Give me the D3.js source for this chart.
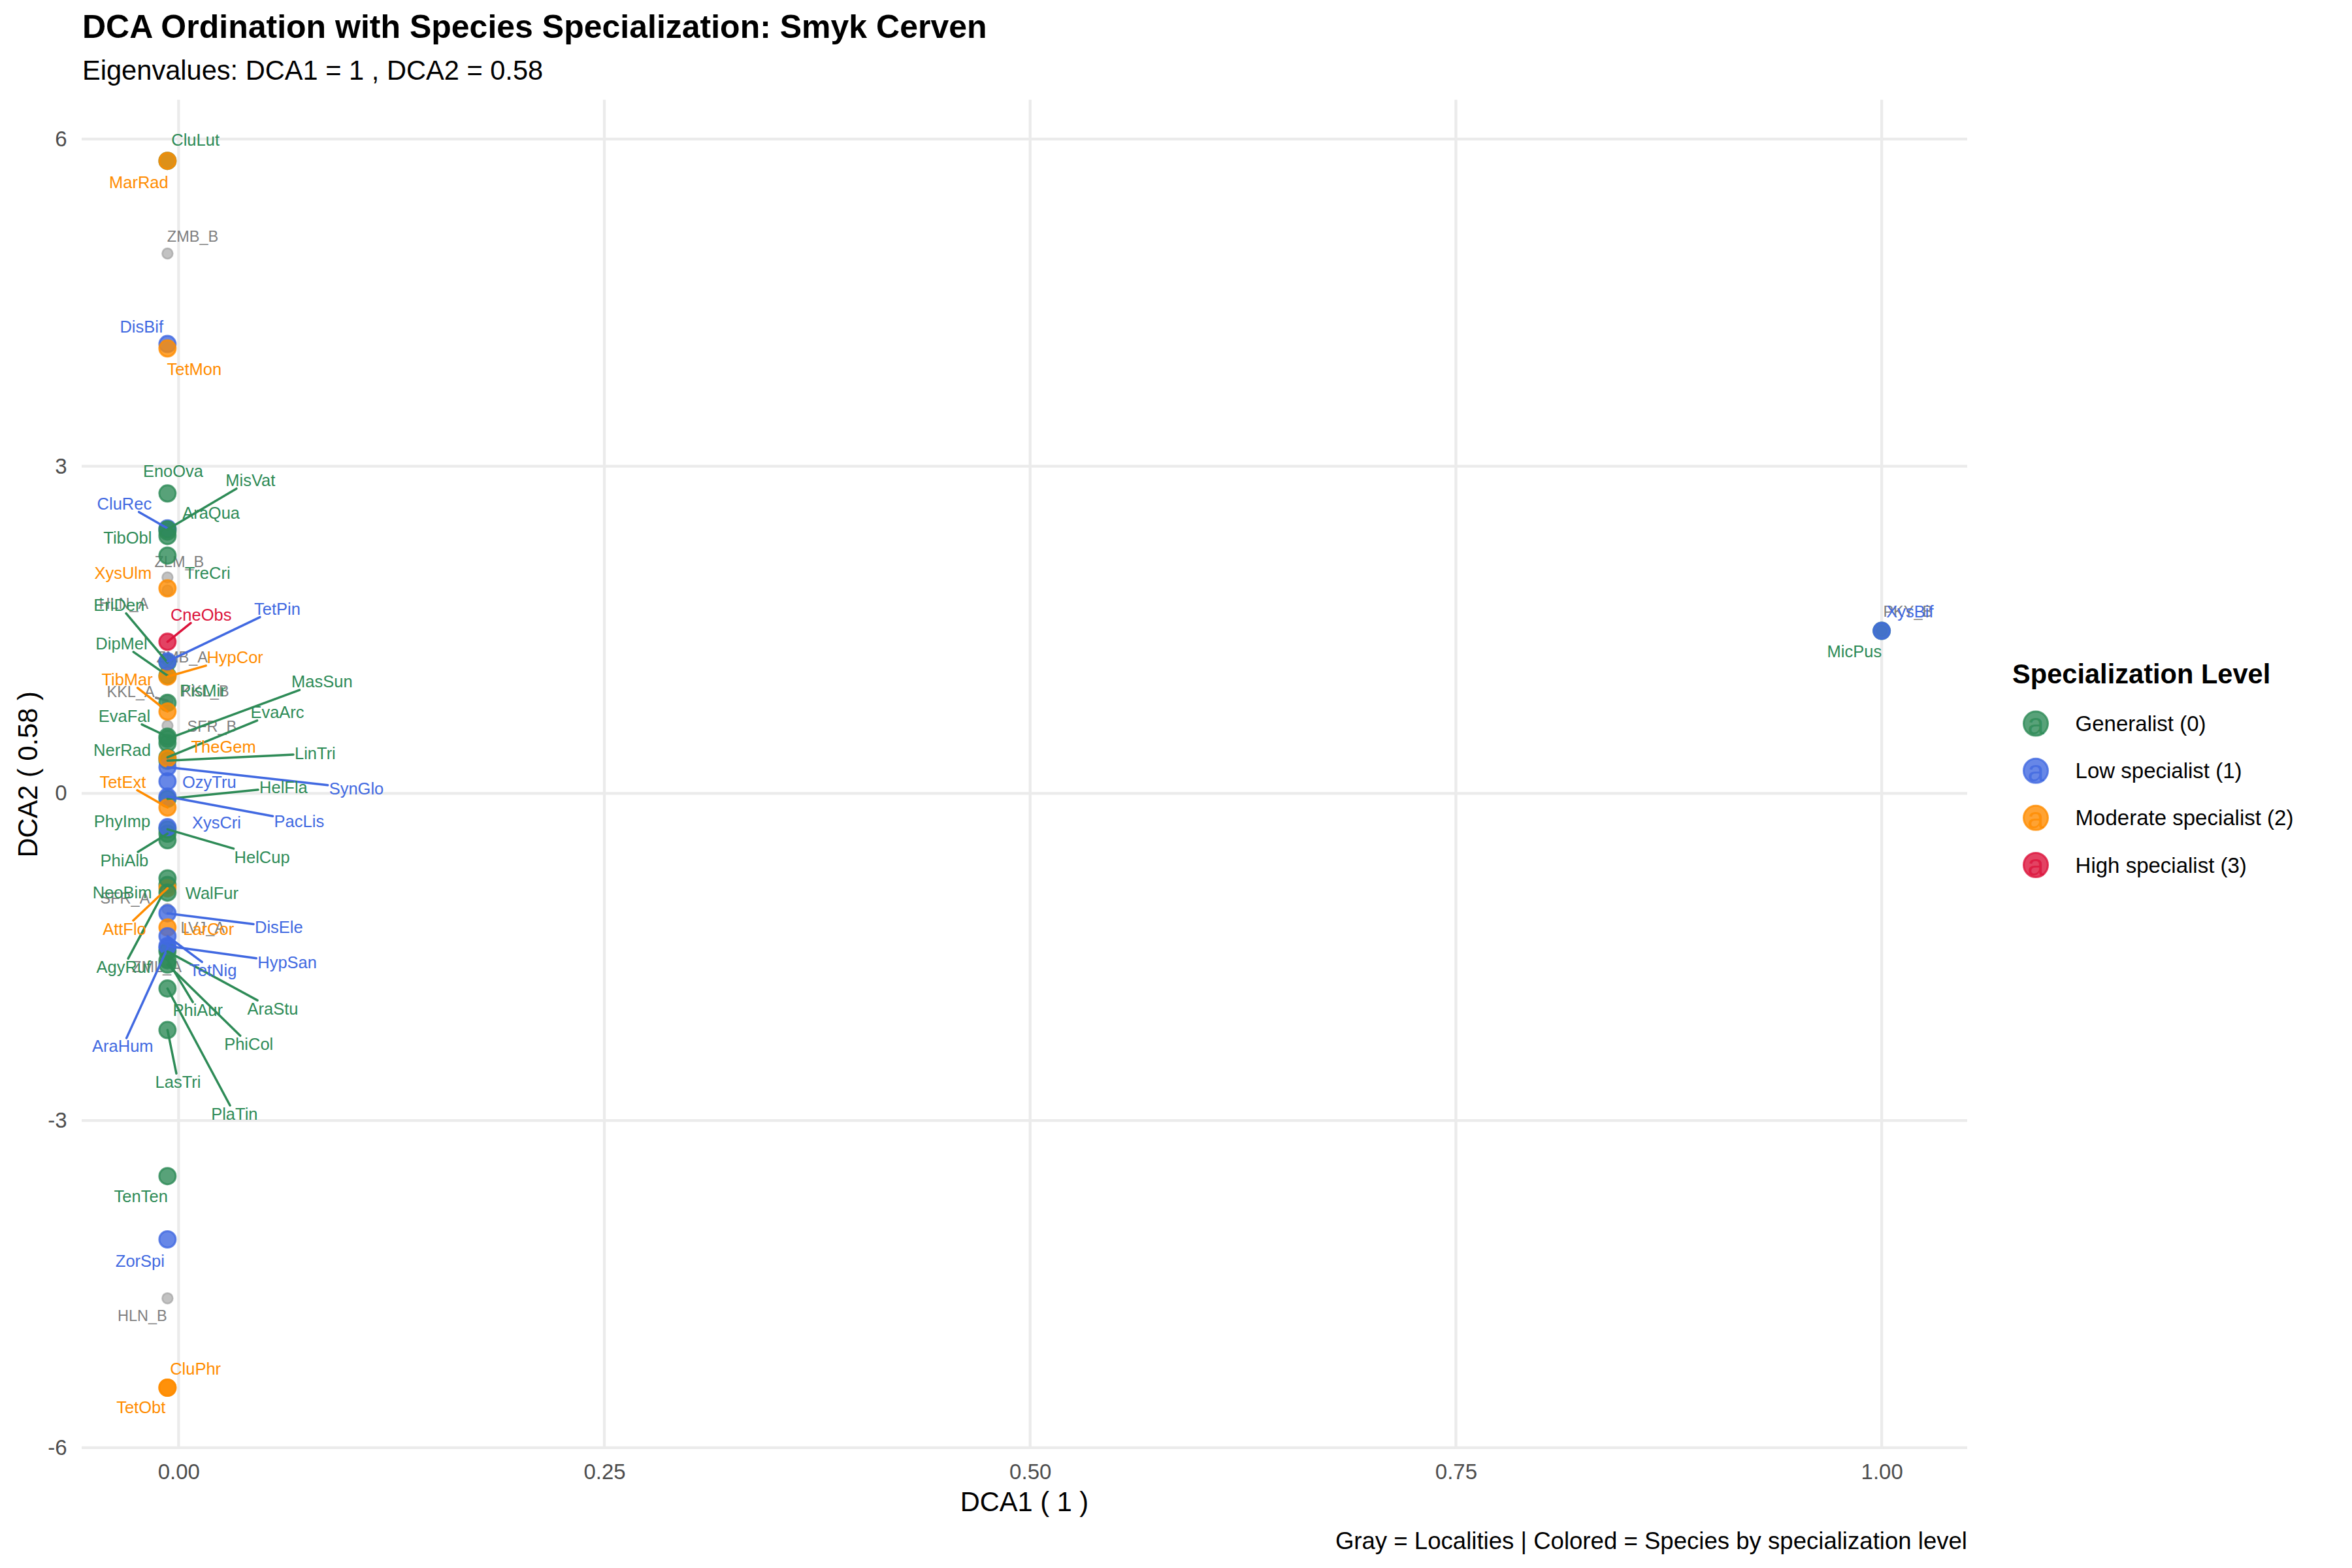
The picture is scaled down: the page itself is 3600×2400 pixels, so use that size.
<!DOCTYPE html>
<html><head><meta charset="utf-8">
<script src="https://cdn.jsdelivr.net/npm/d3@7"></script>
<style>
body{margin:0;background:#fff}
svg{display:block}
text{font-family:"Liberation Sans",Arial,Helvetica,sans-serif}
</style>
</head><body>
<svg id="chart" width="3600" height="2400"></svg>
<script>
// ---------------- DATA ----------------
const levelNames = ["Generalist (0)", "Low specialist (1)", "Moderate specialist (2)", "High specialist (3)"];
const levelColors = ["#2E8B57", "#4169E1", "#FF8C00", "#DC143C"];

const speciesNames = ["CluLut","EnoOva","MisVat","AraQua","TibObl","TreCri","EriDen","DipMel","PisMir","MasSun","EvaArc","EvaFal","NerRad","LinTri","HelFla","PhyImp","HelCup","PhiAlb","NeoBim","WalFur","AgyRuf","PhiAur","AraStu","PhiCol","PlaTin","LasTri","TenTen","MicPus",
  "DisBif","CluRec","TetPin","SynGlo","OzyTru","PacLis","XysCri","DisEle","HypSan","TetNig","AraHum","ZorSpi","XysBif",
  "MarRad","TetMon","XysUlm","HypCor","TibMar","TheGem","TetExt","AttFlo","LarCor","CluPhr","TetObt",
  "CneObs"];
const speciesLevel = [0,0,0,0,0,0,0,0,0,0,0,0,0,0,0,0,0,0,0,0,0,0,0,0,0,0,0,0,
  1,1,1,1,1,1,1,1,1,1,1,1,1,
  2,2,2,2,2,2,2,2,2,2,2,
  3];
const speciesDCA1 = [-0.0065,-0.0065,-0.0065,-0.0065,-0.0065,-0.0065,-0.0065,-0.0065,-0.0065,-0.0065,-0.0065,-0.0065,-0.0065,-0.0065,-0.0065,-0.0065,-0.0065,-0.0065,-0.0065,-0.0065,-0.0065,-0.0065,-0.0065,-0.0065,-0.0065,-0.0065,-0.0065,1.0,
  -0.0065,-0.0065,-0.0065,-0.0065,-0.0065,-0.0065,-0.0065,-0.0065,-0.0065,-0.0065,-0.0065,-0.0065,1.0,
  -0.0065,-0.0065,-0.0065,-0.0065,-0.0065,-0.0065,-0.0065,-0.0065,-0.0065,-0.0065,-0.0065,
  -0.0065];
const speciesDCA2 = [5.80,2.75,2.42,2.40,2.36,2.18,1.20,1.08,0.83,0.50,0.33,0.52,0.46,0.30,-0.05,-0.43,-0.33,-0.37,-0.78,-0.91,-0.84,-1.53,-1.45,-1.57,-1.79,-2.17,-3.51,1.49,
  4.12,2.43,1.21,0.24,0.11,-0.03,-0.31,-1.10,-1.40,-1.31,-1.42,-4.09,1.49,
  5.80,4.08,1.88,1.07,0.75,0.32,-0.13,-0.87,-1.23,-5.45,-5.45,
  1.39];
// repelled label anchors (in DCA units)
const speciesLabelDCA1 = [0.0099,-0.0032,0.0422,0.0191,-0.0299,0.0170,-0.0349,-0.0335,0.0142,0.0842,0.0580,-0.0318,-0.0331,0.0802,0.0616,-0.0331,0.0490,-0.0318,-0.0331,0.0196,-0.0322,0.0113,0.0553,0.0412,0.0328,-0.0003,-0.0221,0.9840,
  -0.0217,-0.0318,0.0580,0.1044,0.0180,0.0708,0.0223,0.0589,0.0638,0.0203,-0.0328,-0.0226,1.0166,
  -0.0234,0.0092,-0.0326,0.0331,-0.0302,0.0264,-0.0328,-0.0318,0.0176,0.0099,-0.0221,
  0.0132];
const speciesLabelDCA2 = [5.994,2.956,2.870,2.571,2.341,2.018,1.726,1.373,0.940,1.024,0.744,0.708,0.395,0.365,0.056,-0.257,-0.583,-0.613,-0.908,-0.913,-1.591,-1.990,-1.974,-2.299,-2.938,-2.645,-3.697,1.301,
  4.281,2.656,1.692,0.046,0.105,-0.254,-0.269,-1.228,-1.551,-1.622,-2.320,-4.287,1.666,
  5.605,3.888,2.018,1.247,1.044,0.429,0.105,-1.242,-1.242,-5.276,-5.628,
  1.638];

const localityNames = ["ZMB_B","ZLM_B","HLN_A","ZMB_A","KKL_A","KKL_B","SFR_B","SFR_A","LVJ_A","ZML_A","HLN_B","PKY_B"];
const localityDCA1 = [-0.0065,-0.0065,-0.0065,-0.0065,-0.0065,-0.0065,-0.0065,-0.0065,-0.0065,-0.0065,-0.0065,1.0];
const localityDCA2 = [4.95,1.98,1.86,1.22,0.85,0.80,0.62,-0.90,-1.06,-1.54,-4.63,1.49];
const localityLabelDCA1 = [0.0083,0.0004,-0.0322,0.0021,-0.0281,0.0156,0.0196,-0.0314,0.0142,-0.0128,-0.0213,1.0154];
const localityLabelDCA2 = [5.105,2.126,1.738,1.247,0.934,0.940,0.614,-0.962,-1.232,-1.591,-4.789,1.666];

// labels that carry a leader segment in the reference
const leaderLines = ["MisVat","EriDen","DipMel","MasSun","EvaArc","EvaFal","LinTri","HelFla","HelCup","PhiAlb","AgyRuf","PhiAur","AraStu","PhiCol","PlaTin","LasTri",
  "CluRec","TetPin","SynGlo","PacLis","DisEle","HypSan","TetNig","AraHum",
  "HypCor","TibMar","TetExt","AttFlo","CneObs","KKL_A"];

const xTicks = [0, 0.25, 0.5, 0.75, 1];
const yTicks = [-6, -3, 0, 3, 6];
const xLimits = [-0.0569, 1.0502];
const yLimits = [-6.013, 6.36];

const titleText = "DCA Ordination with Species Specialization: Smyk Cerven";
const subtitleText = "Eigenvalues: DCA1 = 1 , DCA2 = 0.58";
const xTitle = "DCA1 ( 1 )";
const yTitle = "DCA2 ( 0.58 )";
const captionText = "Gray = Localities | Colored = Species by specialization level";
const legendTitle = "Specialization Level";

// ---------------- LAYOUT ----------------
const P = {left:125, right:3011, top:152.7, bottom:2218};
const svg = d3.select("#chart");
svg.append("rect").attr("width",3600).attr("height",2400).attr("fill","#fff");

const x = d3.scaleLinear().domain(xLimits).range([P.left, P.right]);
const y = d3.scaleLinear().domain(yLimits).range([P.bottom, P.top]);

// grid
const grid = svg.append("g");
grid.selectAll("line.h").data(yTicks).join("line")
  .attr("x1",P.left).attr("x2",P.right).attr("y1",d=>y(d)).attr("y2",d=>y(d))
  .attr("stroke","#EBEBEB").attr("stroke-width",4.3);
grid.selectAll("line.v").data(xTicks).join("line")
  .attr("y1",P.top).attr("y2",P.bottom).attr("x1",d=>x(d)).attr("x2",d=>x(d))
  .attr("stroke","#EBEBEB").attr("stroke-width",4.3);

// axes (labels only)
const xAxis = svg.append("g").attr("transform",`translate(0,${P.bottom})`)
  .call(d3.axisBottom(x).tickValues(xTicks).tickSize(0).tickPadding(22.6).tickFormat(d3.format(".2f")));
const yAxis = svg.append("g").attr("transform",`translate(${P.left},0)`)
  .call(d3.axisLeft(y).tickValues(yTicks).tickSize(0).tickPadding(22.3).tickFormat(d3.format("d")));
[xAxis,yAxis].forEach(a=>{
  a.select(".domain").remove();
  a.selectAll("text").attr("font-size",33).attr("fill","#4D4D4D")
   .attr("font-family",'"Liberation Sans",Arial,Helvetica,sans-serif');
});
yAxis.selectAll("text").text(d=>d<0?"-"+Math.abs(d):d);

// titles
svg.append("text").attr("x",126).attr("y",58).attr("font-size",50).attr("font-weight","bold").attr("fill","#000").text(titleText);
svg.append("text").attr("x",126).attr("y",122).attr("font-size",41.6).attr("fill","#000").text(subtitleText);
svg.append("text").attr("x",(P.left+P.right)/2).attr("y",2312.7).attr("text-anchor","middle").attr("font-size",41.6).attr("fill","#000").text(xTitle);
svg.append("text").attr("transform",`translate(42,${(P.top+P.bottom)/2}) rotate(-90)`).attr("dy","0.35em")
  .attr("text-anchor","middle").attr("font-size",41.6).attr("fill","#000").text(yTitle);
svg.append("text").attr("x",P.right).attr("y",2370.7).attr("text-anchor","end").attr("font-size",36.6).attr("fill","#000").text(captionText);

// build records
const species = speciesNames.map((n,i)=>({name:n, lev:speciesLevel[i], x:speciesDCA1[i], y:speciesDCA2[i], lx:speciesLabelDCA1[i], ly:speciesLabelDCA2[i]}))
  .sort((a,b)=>d3.ascending(a.name,b.name));
const localities = localityNames.map((n,i)=>({name:n, x:localityDCA1[i], y:localityDCA2[i], lx:localityLabelDCA1[i], ly:localityLabelDCA2[i]}));

const locGray = "#999999", locText = "#7F7F7F";

function drawLabels(g, recs, colorFn, fs){
  recs.forEach(d=>{
    const px = x(d.x), py = y(d.y), cx = x(d.lx), cy = y(d.ly);
    const t = g.append("text").attr("x",cx).attr("y",cy).attr("dy","0.35em")
      .attr("text-anchor","middle").attr("font-size",fs).attr("fill",colorFn(d)).text(d.name);
    if (leaderLines.includes(d.name)) {
      const w = t.node().getComputedTextLength();
      const hw = w/2 + 2, hh = fs*0.42 + 2;
      const dx = px - cx, dy = py - cy;
      const s = Math.min(dx===0?Infinity:hw/Math.abs(dx), dy===0?Infinity:hh/Math.abs(dy));
      if (s < 1) {
        g.insert("line","text").attr("x1",px).attr("y1",py).attr("x2",cx+dx*s).attr("y2",cy+dy*s)
          .attr("stroke",colorFn(d)).attr("stroke-width",3.5).attr("stroke-linecap","round");
      }
    }
  });
}

// locality points + labels
const gLocPts = svg.append("g");
gLocPts.selectAll("circle").data(localities).join("circle")
  .attr("cx",d=>x(d.x)).attr("cy",d=>y(d.y)).attr("r",8)
  .attr("fill",locGray).attr("fill-opacity",0.6)
  .attr("stroke",locGray).attr("stroke-opacity",0.6).attr("stroke-width",2.5);
const gLocLab = svg.append("g");
drawLabels(gLocLab, localities, ()=>locText, 23.5);

// species points + labels
const gSpPts = svg.append("g");
gSpPts.selectAll("circle").data(species).join("circle")
  .attr("cx",d=>x(d.x)).attr("cy",d=>y(d.y)).attr("r",12.5)
  .attr("fill",d=>levelColors[d.lev]).attr("fill-opacity",0.8)
  .attr("stroke",d=>levelColors[d.lev]).attr("stroke-opacity",0.8).attr("stroke-width",3);
const gSpLab = svg.append("g");
drawLabels(gSpLab, species, d=>levelColors[d.lev], 25.5);

// legend
const lg = svg.append("g");
lg.append("text").attr("x",3080).attr("y",1046).attr("font-size",41.6).attr("font-weight","bold").attr("fill","#000").text(legendTitle);
const keyY = d3.scalePoint().domain(levelNames).range([1107.6, 1324]);
levelNames.forEach((lab,i)=>{
  const ky = keyY(lab);
  lg.append("circle").attr("cx",3116).attr("cy",ky).attr("r",18.5)
    .attr("fill",levelColors[i]).attr("fill-opacity",0.8)
    .attr("stroke",levelColors[i]).attr("stroke-opacity",0.8).attr("stroke-width",3);
  lg.append("text").attr("x",3116).attr("y",ky+16).attr("text-anchor","middle")
    .attr("font-size",46).attr("fill",levelColors[i]).attr("fill-opacity",0.8).text("a");
  lg.append("text").attr("x",3176.6).attr("y",ky).attr("dy","0.35em").attr("font-size",33).attr("fill","#000").text(lab);
});
</script>
</body></html>
